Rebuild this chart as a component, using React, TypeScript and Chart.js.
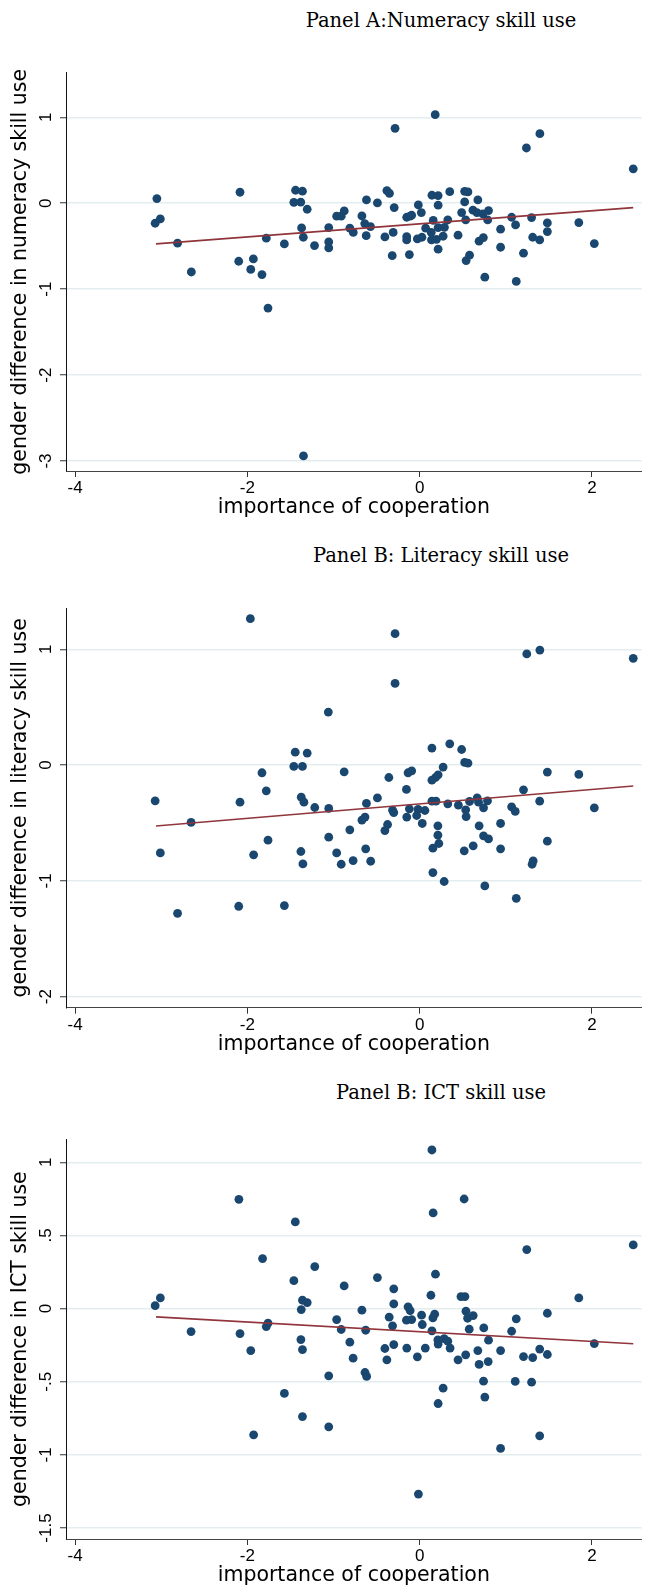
import React, { useEffect, useRef } from "react";
import { Chart, registerables } from "chart.js";

Chart.register(...registerables);

// ---------- data ----------
const xTickValues = [-4, -2, 0, 2];
const xRange = [-4.105, 2.577];

const numeracyTicks = [1, 0, -1, -2, -3];
const numeracyRange = [-3.116, 1.519];
const numeracyX = [
  -3.05, -3.07, -3.01, -2.81, -2.65, -2.085, -2.1, -1.93, -1.96, -1.83, -1.78, -1.76, -1.57, -1.44, -1.36,
  -1.46, -1.38, -1.305, -1.37, -1.35, -1.22, -1.055, -1.055, -1.055, -0.963, -0.91, -0.875, -0.81, -0.77,
  -0.67, -0.637, -0.57, -0.62, -0.617, -0.49, -0.403, -0.38, -0.35, -0.295, -0.307, -0.318, 1.24, 2.48,
  -0.15, -0.11, -0.092, -0.15, -0.15, -0.119, -0.015, 0.02, -0.026, 0.027, 0.07, 0.143, 0.215, 0.215, 0.158,
  0.135, 0.138, 0.196, 0.215, 0.273, 0.288, 0.215, 0.327, 0.35, 0.446, 0.488, 0.523, 0.561, 0.523, 0.535,
  0.58, 0.54, 0.619, 0.676, 0.665, 0.734, 0.8, 0.79, 0.69, 0.74, 0.757, 0.94, 0.94, 1.068, 1.114, 1.122,
  1.206, 1.3, 1.313, 1.394, 1.483, 1.483, 1.848, 2.028, -0.285, 0.181, 1.396, -1.348,
];
const numeracyY = [
  0.054, -0.233, -0.183, -0.465, -0.8, 0.128, -0.675, -0.648, -0.77, -0.83, -0.407, -1.22, -0.473, 0.151, 0.14,
  0.01, 0.012, -0.07, -0.287, -0.396, -0.493, -0.283, -0.45, -0.52, -0.151, -0.151, -0.09, -0.29, -0.34,
  -0.148, -0.237, -0.272, -0.377, 0.038, 0.003, -0.392, 0.147, 0.116, -0.05, -0.34, -0.61, 0.643, 0.4,
  -0.163, -0.151, -0.14, -0.388, -0.427, -0.597, -0.02, -0.109, -0.415, -0.396, -0.29, 0.093, 0.089, -0.023, -0.2,
  -0.34, -0.427, -0.42, -0.283, -0.384, -0.28, -0.535, -0.194, 0.135, -0.372, -0.109, 0.139, 0.132, 0.015, -0.194,
  -0.605, -0.667, -0.081, 0.038, -0.109, -0.124, -0.085, -0.194, -0.442, -0.4, -0.86, -0.302, -0.512, -0.163, -0.252, -0.91,
  -0.581, -0.167, -0.396, -0.427, -0.229, -0.33, -0.225, -0.47, 0.872, 1.03, 0.81, -2.94,
];
const numeracyFitX = [-3.06, 2.48];
const numeracyFitY = [-0.473, -0.051];

const literacyTicks = [1, 0, -1, -2];
const literacyRange = [-2.095, 1.357];
const literacyX = [
  -1.06, -1.444, -1.305, -1.46, -1.36, -1.83, -0.876, -0.357, -3.07, -2.085, -1.78, -1.374, -1.343, -1.217,
  -1.055, -2.653, -0.617, -0.49, -0.67, -0.634, -0.81, -1.055, -1.76, -0.372, -0.403, -0.314, -0.3, -3.01,
  -1.927, -1.378, -1.355, -0.963, -0.91, -0.772, -0.626, -0.568, -2.81, -2.1, -1.57, 0.143, 0.35, 0.488, 0.523,
  0.561, 0.273, -0.134, -0.092, 0.215, 0.185, 0.143, -0.153, 0.143, 0.19, 0.327, 0.45, 0.58, 0.668, 0.684,
  0.788, 0.742, 0.535, 0.54, -0.119, -0.018, 0.062, -0.149, -0.034, 0.031, 0.212, 0.212, 0.223, 0.154, 0.154,
  0.285, 0.518, 0.622, 0.691, 0.742, 0.8, 0.757, 0.94, 0.94, 1.068, 1.11, 1.122, 1.206, 1.394, 1.483, 1.483,
  1.306, 1.318, 1.848, 2.028, -1.965, -0.285, -0.285, 1.244, 1.396, 2.48,
];
const literacyY = [
  0.458, 0.112, 0.104, -0.011, -0.011, -0.066, -0.058, -0.107, -0.308, -0.32, -0.222, -0.277, -0.32, -0.366,
  -0.374, -0.495, -0.331, -0.283, -0.475, -0.449, -0.559, -0.622, -0.648, -0.513, -0.565, -0.389, -0.41, -0.758,
  -0.775, -0.746, -0.853, -0.758, -0.856, -0.824, -0.723, -0.83, -1.28, -1.219, -1.213, 0.147, 0.184, 0.135, 0.023,
  0.017, -0.017, -0.066, -0.049, -0.084, -0.107, -0.13, -0.21, -0.311, -0.311, -0.334, -0.346, -0.314, -0.283, -0.32,
  -0.308, -0.369, -0.386, -0.444, -0.377, -0.383, -0.392, -0.449, -0.435, -0.504, -0.524, -0.605, -0.677, -0.717, -0.928,
  -1.005, -0.74, -0.697, -0.524, -0.611, -0.637, -1.043, -0.504, -0.723, -0.36, -0.4, -1.15, -0.213, -0.311, -0.06, -0.657,
  -0.856, -0.827, -0.08, -0.369, 1.265, 1.135, 0.706, 0.96, 0.994, 0.922,
];
const literacyFitX = [-3.06, 2.48];
const literacyFitY = [-0.526, -0.18];

const ictTicks = [1, 0.5, 0, -0.5, -1, -1.5];
const ictRange = [-1.575, 1.157];
const ictX = [
  -1.823, -1.217, -1.46, -0.876, -0.49, -0.3, -0.3, -3.01, -3.07, -1.36, -1.305, -1.374, -0.67, -0.963, -0.91,
  -0.626, -0.353, -0.314, -2.653, -2.085, -1.76, -1.78, -1.96, -1.378, -1.36, -0.81, -0.772, -0.403, -0.3, -0.38,
  -0.634, -0.615, -1.055, -1.57, -1.36, -1.055, -1.927, 0.184, 0.131, 0.48, 0.526, 1.848, -0.134, -0.11, -0.153,
  -0.092, 0.023, 0.031, 0.175, 0.154, 0.143, 0.538, 0.557, 0.622, 0.576, 0.745, 1.122, 1.483, 1.068, 2.028,
  0.212, 0.215, 0.285, 0.327, 0.354, -0.149, 0.066, -0.026, 0.446, 0.535, 0.676, 0.8, 0.691, 0.796, 0.94, 1.206,
  1.313, 1.394, 1.483, 0.742, 1.11, 1.3, 0.273, 0.215, 0.757, 1.394, 0.94, -2.098, -1.443, 0.143, 0.517, 0.157,
  1.244, 2.48, -0.014,
];
const ictY = [
  0.342, 0.287, 0.191, 0.155, 0.212, 0.135, 0.032, 0.073, 0.02, 0.057, 0.041, -0.007, -0.011, -0.075, -0.143,
  -0.148, -0.059, -0.118, -0.157, -0.171, -0.1, -0.123, -0.287, -0.212, -0.28, -0.23, -0.339, -0.273, -0.246, -0.35,
  -0.437, -0.464, -0.46, -0.58, -0.738, -0.808, -0.863, 0.235, 0.091, 0.082, 0.082, 0.073, 0.012, -0.014, -0.079,
  -0.075, -0.045, -0.109, -0.038, -0.064, -0.152, -0.018, -0.066, -0.048, -0.141, -0.132, -0.07, -0.032, -0.155, -0.239,
  -0.214, -0.243, -0.205, -0.223, -0.27, -0.27, -0.27, -0.33, -0.35, -0.316, -0.287, -0.216, -0.382, -0.362, -0.287, -0.328,
  -0.335, -0.277, -0.314, -0.496, -0.498, -0.503, -0.544, -0.649, -0.605, -0.87, -0.956, 0.747, 0.592, 1.084, 0.749, 0.654,
  0.403, 0.435, -1.268,
];
const ictFitX = [-3.06, 2.48];
const ictFitY = [-0.057, -0.24];

// ---------- styling ----------
const DOT = "#1a476f";
const FIT = "#90353b";
const GRID = "#e3edef";
const SANS = '"Liberation Sans", Arial, sans-serif';
const TITLE_SANS = '"DejaVu Sans", sans-serif';
const SERIF = '"DejaVu Serif", serif';
const TICK_SIZE = 17;
const AXIS_TITLE_SIZE = 20.5;
const Y_AXIS_WIDTH = 66;
const TICK_LEN = 6;
const Y_LABEL_CENTER = 46.5;

const fmt = (v: number) => String(v).replace(/^(-?)0\./, "$1.");

type PanelProps = {
  title: string;
  yTitle: string;
  xs: number[];
  ys: number[];
  fitX: number[];
  fitY: number[];
  yTicks: number[];
  yRange: number[];
  top: number;
  height: number;
  plotTop: number;
  plotBottom: number;
  titleBaseline: number;
};

function Panel(p: PanelProps) {
  const ref = useRef<HTMLCanvasElement | null>(null);
  useEffect(() => {
    const canvas = ref.current;
    if (!canvas) return;
    const mctx = document.createElement("canvas").getContext("2d")!;
    mctx.font = `${TICK_SIZE}px ${SANS}`;
    const widest = Math.max(...p.yTicks.map((v) => mctx.measureText(fmt(v)).width));
    const yPad = Y_AXIS_WIDTH - TICK_LEN - Y_LABEL_CENTER - widest / 2;
    const xAxisHeight = p.top + p.height - p.plotBottom;
    const xTitlePadB = xAxisHeight - 49.2;

    const chart = new Chart(canvas, {
      type: "scatter",
      data: {
        datasets: [
          {
            type: "line",
            data: p.fitX.map((x, i) => ({ x, y: p.fitY[i] })),
            borderColor: FIT,
            borderWidth: 1.6,
            pointRadius: 0,
            fill: false,
            order: 0,
          } as any,
          {
            type: "scatter",
            data: p.xs.map((x, i) => ({ x, y: p.ys[i] })),
            backgroundColor: DOT,
            borderWidth: 0,
            pointRadius: 4.4,
            order: 1,
          },
        ],
      },
      options: {
        responsive: false,
        animation: false,
        devicePixelRatio: 1,
        layout: { padding: { top: p.plotTop - p.top, left: 0, right: 0, bottom: 0 } },
        plugins: { legend: { display: false }, tooltip: { enabled: false }, title: { display: false } },
        scales: {
          x: {
            type: "linear",
            position: "bottom",
            min: xRange[0],
            max: xRange[1],
            afterBuildTicks: (s: any) => {
              s.ticks = xTickValues.map((v) => ({ value: v }));
            },
            afterFit: (s: any) => {
              s.height = xAxisHeight;
            },
            ticks: {
              padding: 1,
              maxRotation: 0,
              autoSkip: false,
              color: "#000",
              font: { family: SANS, size: TICK_SIZE },
              callback: (v: any) => fmt(Number(v)),
            },
            grid: { drawOnChartArea: false, drawTicks: true, tickLength: TICK_LEN, tickColor: "#333", tickWidth: 1 },
            border: { display: true, color: "#444", width: 1 },
            title: {
              display: true,
              text: "importance of cooperation",
              color: "#000",
              font: { family: TITLE_SANS, size: AXIS_TITLE_SIZE },
              padding: { top: 0, bottom: xTitlePadB },
            },
          },
          y: {
            type: "linear",
            min: p.yRange[0],
            max: p.yRange[1],
            afterBuildTicks: (s: any) => {
              s.ticks = p.yTicks.map((v) => ({ value: v }));
            },
            afterFit: (s: any) => {
              s.width = Y_AXIS_WIDTH;
            },
            ticks: {
              minRotation: 90,
              maxRotation: 90,
              crossAlign: "center",
              padding: yPad,
              color: "#000",
              font: { family: SANS, size: TICK_SIZE },
              callback: (v: any) => fmt(Number(v)),
            },
            grid: { color: GRID, lineWidth: 1.5, drawTicks: true, tickLength: TICK_LEN, tickColor: "#333", tickWidth: 1 },
            border: { display: true, color: "#111", width: 1 },
            title: {
              display: true,
              text: p.yTitle,
              color: "#000",
              font: { family: TITLE_SANS, size: AXIS_TITLE_SIZE },
              padding: { top: 8.7, bottom: 0 },
            },
          },
        },
      } as any,
    });
    return () => chart.destroy();
  }, []);

  return (
    <>
      <div
        style={{
          position: "absolute",
          left: 441,
          top: p.titleBaseline - 16.5,
          transform: "translateX(-50%)",
          whiteSpace: "nowrap",
          fontFamily: SERIF,
          fontSize: 19.5,
          lineHeight: "19.5px",
          color: "#000",
        }}
      >
        {p.title}
      </div>
      <canvas
        ref={ref}
        width={646}
        height={p.height}
        style={{ position: "absolute", left: 0, top: p.top, width: 646, height: p.height }}
      />
    </>
  );
}

export default function App() {
  return (
    <div
      style={{
        position: "absolute",
        left: 0,
        top: 0,
        width: 646,
        height: 1593,
        overflow: "hidden",
        background: "#fff",
      }}
    >
      <Panel
        title="Panel A:Numeracy skill use"
        yTitle="gender difference in numeracy skill use"
        xs={numeracyX}
        ys={numeracyY}
        fitX={numeracyFitX}
        fitY={numeracyFitY}
        yTicks={numeracyTicks}
        yRange={numeracyRange}
        top={0}
        height={525}
        plotTop={72.7}
        plotBottom={471}
        titleBaseline={27.7}
      />
      <Panel
        title="Panel B: Literacy skill use"
        yTitle="gender difference in literacy skill use"
        xs={literacyX}
        ys={literacyY}
        fitX={literacyFitX}
        fitY={literacyFitY}
        yTicks={literacyTicks}
        yRange={literacyRange}
        top={530}
        height={530}
        plotTop={608}
        plotBottom={1007.7}
        titleBaseline={562.7}
      />
      <Panel
        title="Panel B: ICT skill use"
        yTitle="gender difference in ICT skill use"
        xs={ictX}
        ys={ictY}
        fitX={ictFitX}
        fitY={ictFitY}
        yTicks={ictTicks}
        yRange={ictRange}
        top={1065}
        height={528}
        plotTop={1139.3}
        plotBottom={1539}
        titleBaseline={1099}
      />
    </div>
  );
}
